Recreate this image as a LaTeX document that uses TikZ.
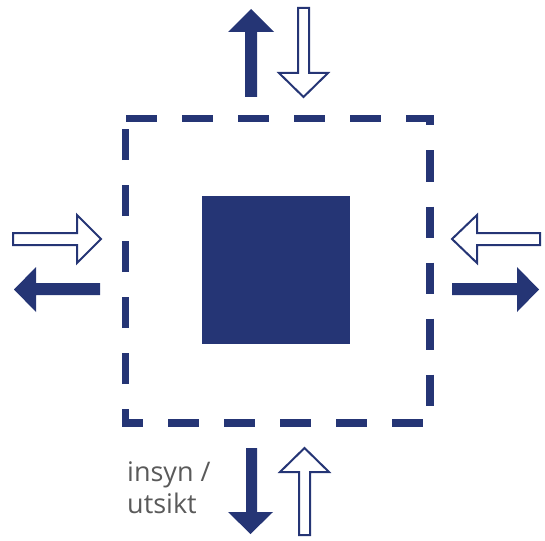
\documentclass[tikz,border=0pt]{standalone}
\usepackage{fontspec}
\setmainfont{Open Sans}
\definecolor{navy}{RGB}{37,53,117}
\definecolor{labelgray}{RGB}{90,90,90}
\tikzset{
  solidarrow/.style={fill=navy, draw=none},
  hollowarrow/.style={fill=white, draw=navy, line width=2pt, line join=miter},
  zone/.style={draw=navy, line width=7.5pt, line join=miter,
               dash pattern=on 31pt off 25pt, dash phase=55.5pt},
  core/.style={fill=navy, draw=none},
  caption/.style={text=labelgray, font=\fontsize{27}{32}\selectfont,
                  align=left, inner sep=0pt}
}
\begin{document}
\begin{tikzpicture}[x=1pt, y=-1pt]
  \useasboundingbox (0,0) rectangle (545,540);

  % dashed boundary around the building
  \draw[zone] (125.5,118.5) -- (430,118.5) -- (430,423) -- (125.5,423) -- cycle;

  % the building itself
  \fill[core] (202,196) rectangle (350,344);

  % top: out (solid) and in (hollow)
  \fill[solidarrow] (245,97) -- (245,32) -- (228,32) -- (251,9) -- (274,32)
       -- (257,32) -- (257,97) -- cycle;
  \draw[hollowarrow] (298,8) -- (309,8) -- (309,73) -- (328,73) -- (303.5,97)
       -- (279,73) -- (298,73) -- cycle;

  % left: in (hollow) and out (solid)
  \draw[hollowarrow] (13,233) -- (77,233) -- (77,215) -- (101,239) -- (77,263)
       -- (77,245) -- (13,245) -- cycle;
  \fill[solidarrow] (100,283) -- (36,283) -- (36,267) -- (14,289.5) -- (36,312)
       -- (36,295) -- (100,295) -- cycle;

  % right: in (hollow) and out (solid)
  \draw[hollowarrow] (540,233) -- (477,233) -- (477,215) -- (452,239) -- (477,263)
       -- (477,245) -- (540,245) -- cycle;
  \fill[solidarrow] (452,283) -- (517,283) -- (517,267) -- (539,289.5) -- (517,312)
       -- (517,295) -- (452,295) -- cycle;

  % bottom: out (solid) and in (hollow)
  \fill[solidarrow] (246,448) -- (257,448) -- (257,512) -- (273,512) -- (250.5,534)
       -- (228,512) -- (246,512) -- cycle;
  \draw[hollowarrow] (299,535) -- (299,472) -- (280,472) -- (304.5,448) -- (329,472)
       -- (310,472) -- (310,535) -- cycle;

  % label (base anchor sits on the last line)
  \node[caption, anchor=base west] (lbl) at (127,513) {insyn /\\utsikt};
\end{tikzpicture}
\end{document}
